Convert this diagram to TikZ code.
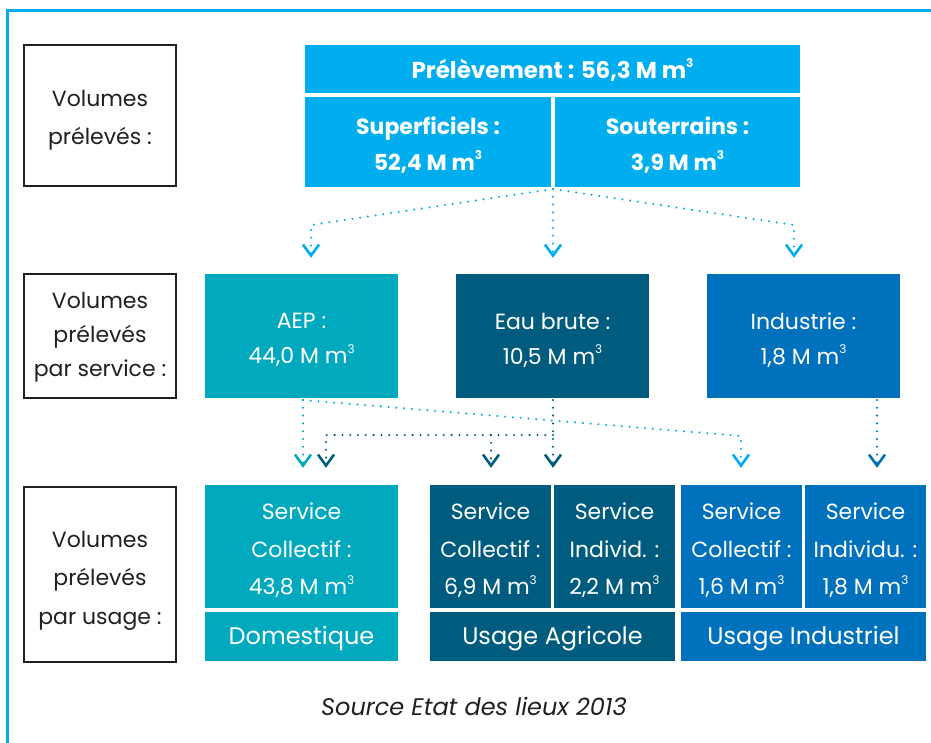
\documentclass[tikz,border=0pt]{standalone}
\usepackage{fontspec}
\setmainfont{Poppins}
\usetikzlibrary{arrows.meta,calc}
\definecolor{cy}{HTML}{00AEEF}
\definecolor{tealc}{HTML}{00A9BE}
\definecolor{darkc}{HTML}{005C7E}
\definecolor{indc}{HTML}{0071BC}
\definecolor{ink}{HTML}{231F20}
\newcommand\mcube{\raisebox{0.48em}{\fontsize{12}{12}\selectfont 3}}
\tikzset{
  lab/.style={draw=ink, line width=2pt, fill=white, inner sep=0pt},
  ltxt/.style={text=ink, align=center, inner sep=0pt, font=\fontsize{22}{#1}\selectfont},
  cbox/.style={fill=#1, inner sep=0pt},
  wtxt/.style={text=white, align=center, inner sep=0pt, font=\fontsize{22}{#1}\selectfont},
  btxt/.style={text=white, align=center, inner sep=0pt, font=\bfseries\fontsize{22}{#1}\selectfont},
  dotl/.style={draw=#1, line width=2.3pt, line cap=round,
    dash pattern=on 0pt off 7.8pt,
    -{Straight Barb[length=11pt,width=16pt,line width=2.6pt]}},
}
\begin{document}
\begin{tikzpicture}[x=1pt,y=-1pt]
\useasboundingbox (0,0) rectangle (931,743);
\fill[white] (0,0) rectangle (931,743);
\draw[cy, line width=3pt] (7.5,743) -- (7.5,10.5) -- (931,10.5);

% label boxes
\node[lab, minimum width=152pt, minimum height=141pt] (l1) at (100,115.5) {};
\node[ltxt=38] (l1t) at ([yshift=-5pt]l1.center) {Volumes\\prélevés :};
\node[lab, minimum width=152pt, minimum height=124pt] (l2) at (100,336) {};
\node[ltxt=34] (l2t) at ([yshift=-1pt]l2.center) {Volumes\\prélevés\\par service :};
\node[lab, minimum width=152pt, minimum height=175pt] (l3) at (100,574.5) {};
\node[ltxt=38.5] (l3t) at ([yshift=-6pt]l3.center) {Volumes\\prélevés\\par usage :};

% top
\node[cbox=cy, minimum width=495pt, minimum height=48pt] (prel) at (552.5,69) {};
\node[btxt=36, font=\bfseries\fontsize{23}{30}\selectfont] (prelt) at ([yshift=-1pt]prel.center) {Prélèvement : 56,3 M m\mcube};
\node[cbox=cy, minimum width=246pt, minimum height=90pt] (sup) at (428,142) {};
\node[btxt=36] (supt) at ([yshift=-3pt]sup.center) {Superficiels :\\52,4 M m\mcube};
\node[cbox=cy, minimum width=245pt, minimum height=90pt] (sout) at (677.5,142) {};
\node[btxt=36] (soutt) at ([yshift=-3pt]sout.center) {Souterrains :\\3,9 M m\mcube};

% row 2
\node[cbox=tealc, minimum width=193pt, minimum height=124pt] (aep) at (301.5,336) {};
\node[wtxt=35] (aept) at ([yshift=-4pt]aep.center) {AEP :\\44,0 M m\mcube};
\node[cbox=darkc, minimum width=193pt, minimum height=124pt] (eau) at (552.5,336) {};
\node[wtxt=35] (eaut) at ([yshift=-4pt]eau.center) {Eau brute :\\10,5 M m\mcube};
\node[cbox=indc, minimum width=193pt, minimum height=124pt] (ind) at (803.5,336) {};
\node[wtxt=35] (indt) at ([yshift=-4pt]ind.center) {Industrie :\\1,8 M m\mcube};

% row 3
\node[cbox=tealc, minimum width=193pt, minimum height=123pt] (dom) at (301.5,546.5) {};
\node[wtxt=37.5] (domt) at ([yshift=-4pt]dom.center) {Service\\Collectif :\\43,8 M m\mcube};
\node[cbox=tealc, minimum width=193pt, minimum height=49pt] (domu) at (301.5,636.5) {};
\node[wtxt=30, font=\fontsize{24}{30}\selectfont] (domut) at ([yshift=-2pt]domu.center) {Domestique};
\node[cbox=darkc, minimum width=121pt, minimum height=123pt] (agc) at (490.5,546.5) {};
\node[wtxt=37.5] (agct) at ([yshift=-4pt]agc.center) {Service\\Collectif :\\6,9 M m\mcube};
\node[cbox=darkc, minimum width=121pt, minimum height=123pt] (agi) at (614.5,546.5) {};
\node[wtxt=37.5] (agit) at ([yshift=-4pt]agi.center) {Service\\Individ. :\\2,2 M m\mcube};
\node[cbox=darkc, minimum width=245pt, minimum height=49pt] (agu) at (552.5,636.5) {};
\node[wtxt=30, font=\fontsize{24}{30}\selectfont] (agut) at ([yshift=-2pt]agu.center) {Usage Agricole};
\node[cbox=indc, minimum width=121pt, minimum height=123pt] (inc) at (741.5,546.5) {};
\node[wtxt=37.5] (inct) at ([yshift=-4pt]inc.center) {Service\\Collectif :\\1,6 M m\mcube};
\node[cbox=indc, minimum width=121pt, minimum height=123pt] (ini) at (865.5,546.5) {};
\node[wtxt=37.5] (init) at ([yshift=-4pt]ini.center) {Service\\Individu. :\\1,8 M m\mcube};
\node[cbox=indc, minimum width=245pt, minimum height=49pt] (inu) at (803.5,636.5) {};
\node[wtxt=30, font=\fontsize{24}{30}\selectfont] (inut) at ([yshift=-2pt]inu.center) {Usage Industriel};

\node[text=ink, font=\itshape\fontsize{24}{28}\selectfont] (src) at (474,706) {Source Etat des lieux 2013};

% connectors row 1 -> row 2
\coordinate (split) at (553,189);
\coordinate (k1) at (311,225);
\coordinate (k2) at (794,225);
\draw[dotl=cy, shorten >=16pt] (split) -- (k1) -- (k1 |- aep.north);
\draw[dotl=cy, shorten >=16pt] (split) -- (split |- eau.north);
\draw[dotl=cy, shorten >=16pt] (split) -- (k2) -- (k2 |- ind.north);

% connectors row 2 -> row 3
\coordinate (a0) at (303,400);
\coordinate (k3) at (741,436);
\coordinate (e0) at (553,400);
\coordinate (k5) at (326,435);
\coordinate (k6) at (491,435);
\coordinate (i0) at (877,400);
\draw[dotl=cy, shorten >=17pt] (a0) -- (k3) -- (k3 |- inc.north);
\draw[dotl=tealc, shorten >=17pt] (a0) -- (a0 |- dom.north);
\draw[dotl=darkc, shorten >=17pt] (e0) -- (e0 |- agc.north);
\draw[dotl=darkc, shorten >=17pt] (e0 |- k5) -- (k5) -- (k5 |- dom.north);
\draw[dotl=darkc, shorten >=17pt] (k6) -- (k6 |- agc.north);
\draw[dotl=indc, shorten >=17pt] (i0) -- (i0 |- ini.north);
\end{tikzpicture}
\end{document}
